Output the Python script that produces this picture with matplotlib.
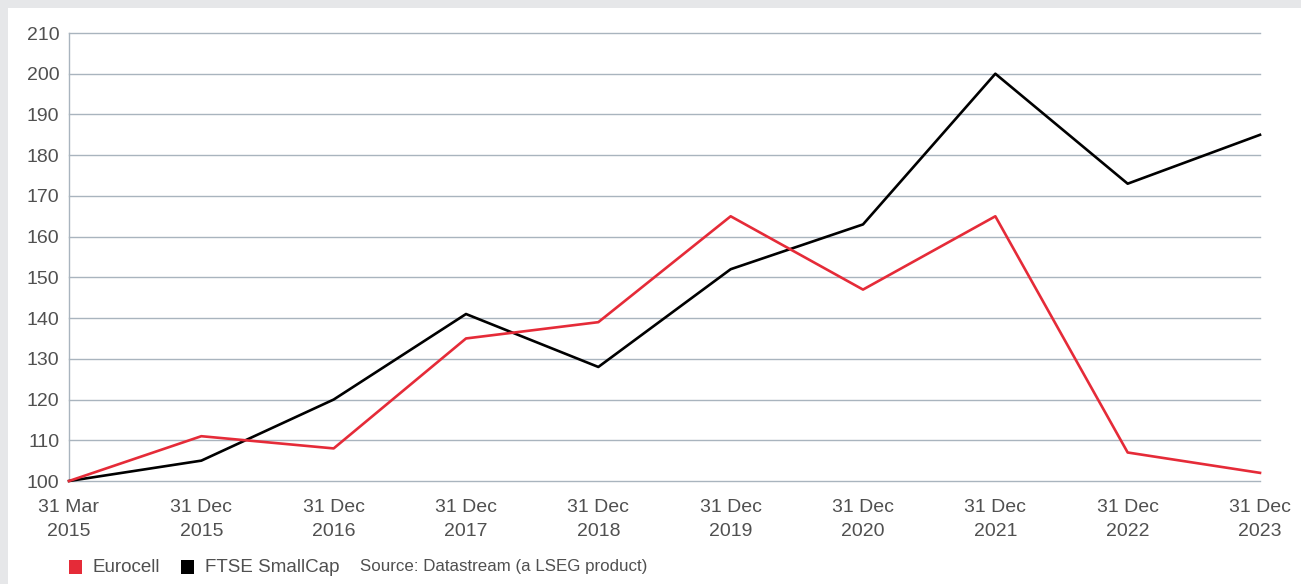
import matplotlib
matplotlib.use("Agg")
import matplotlib.pyplot as plt
from matplotlib.patches import Rectangle

plt.rcParams['font.family'] = ['Liberation Sans', 'DejaVu Sans']

# data
dates = ["31 Mar\n2015", "31 Dec\n2015", "31 Dec\n2016", "31 Dec\n2017", "31 Dec\n2018",
         "31 Dec\n2019", "31 Dec\n2020", "31 Dec\n2021", "31 Dec\n2022", "31 Dec\n2023"]
eurocell = [100, 111, 108, 135, 139, 165, 147, 165, 107, 102]
ftse_smallcap = [100, 105, 120, 141, 128, 152, 163, 200, 173, 185]
yticks = list(range(100, 211, 10))

W, H = 1301, 584
fig = plt.figure(figsize=(W / 100, H / 100), dpi=100)
fig.patch.set_facecolor("#e6e7e9")
# white panel, behind everything
fig.patches.append(Rectangle((8 / W, 0), 1, 1 - 8 / H, transform=fig.transFigure,
                             facecolor="white", edgecolor="none", zorder=-10))

ax = fig.add_axes([69 / W, 1 - 481 / H, (1260 - 69) / W, (481 - 33) / H])
ax.set_facecolor("none")
ax.set_zorder(5)

x = list(range(len(dates)))
ax.plot(x, ftse_smallcap, color="black", lw=1.9, zorder=3, label="FTSE SmallCap", clip_on=False)
ax.plot(x, eurocell, color="#e52b38", lw=1.9, zorder=4, label="Eurocell", clip_on=False)

ax.set_xlim(0, len(dates) - 1)
ax.set_ylim(100, 210)
ax.set_yticks(yticks)
ax.set_xticks(x)
ax.set_xticklabels(dates)
ax.yaxis.grid(True, color="#a9b4be", lw=1.0)
ax.set_axisbelow(True)
for gl in ax.get_ygridlines():
    gl.set_clip_on(False)
for s in ["top", "right", "bottom"]:
    ax.spines[s].set_visible(False)
ax.spines["left"].set_color("#a9b4be")
ax.spines["left"].set_linewidth(1.0)
tc = "#505050"
ax.tick_params(axis="both", length=0, labelsize=14, colors=tc)
ax.tick_params(axis="y", pad=7)
ax.tick_params(axis="x", pad=13)
for lbl in ax.get_xticklabels():
    lbl.set_linespacing(1.5)

# legend row
fig.patches.append(Rectangle((69 / W, 1 - 574 / H), 13 / W, 14 / H, transform=fig.transFigure,
                             facecolor="#e52b38", edgecolor="none"))
fig.text(93 / W, 1 - 567 / H, "Eurocell", fontsize=13.5, color=tc, va="center")
fig.patches.append(Rectangle((181 / W, 1 - 574 / H), 13 / W, 14 / H, transform=fig.transFigure,
                             facecolor="black", edgecolor="none"))
fig.text(205 / W, 1 - 567 / H, "FTSE SmallCap", fontsize=13.5, color=tc, va="center")
fig.text(360 / W, 1 - 567 / H, "Source: Datastream (a LSEG product)", fontsize=12.2, color=tc, va="center")

fig.savefig("out.png", dpi=100, facecolor=fig.get_facecolor())
